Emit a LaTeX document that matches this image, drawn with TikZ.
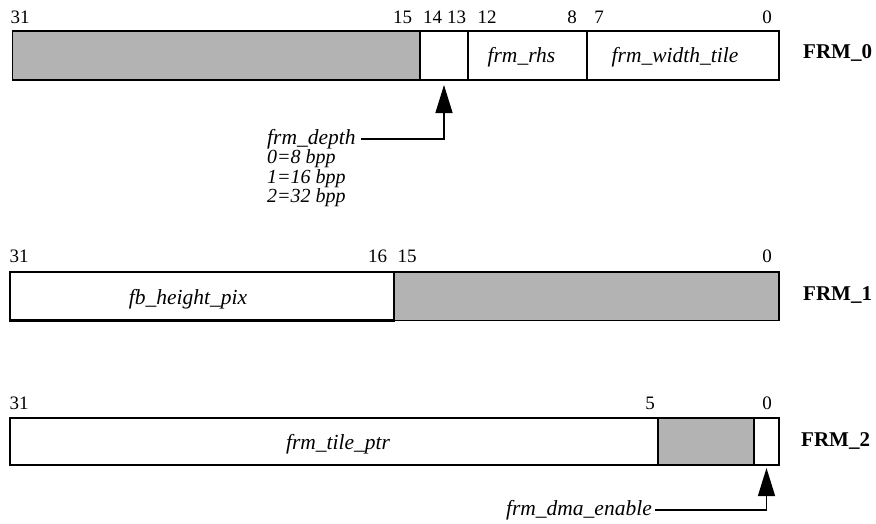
\documentclass[tikz,border=0pt]{standalone}
\usepackage{fontspec}
\setmainfont{Liberation Serif}
\usetikzlibrary{arrows.meta}
\definecolor{fieldgray}{HTML}{B3B3B3}
\begin{document}
\begin{tikzpicture}[x=1pt,y=-1pt,
  reserved/.style={draw=black, fill=fieldgray, line width=1.5pt, inner sep=0pt, outer sep=0pt},
  field/.style={draw=black, fill=white, line width=2.6pt, inner sep=0pt, outer sep=0pt},
  bitnum/.style={font=\fontsize{19}{19}\selectfont, anchor=base, inner sep=0pt},
  fname/.style={font=\fontsize{21.5}{21.5}\selectfont\itshape, anchor=base, inner sep=0pt},
  valname/.style={font=\fontsize{20}{20}\selectfont\itshape, anchor=base west, inner sep=0pt},
  note/.style={font=\fontsize{21.5}{21.5}\selectfont\itshape, inner sep=0pt},
  regname/.style={font=\fontsize{21}{21}\selectfont\bfseries, anchor=base west, inner sep=0pt},
  pointer/.style={line width=1.4pt, -{Triangle[width=17pt,length=28pt]}},
]
\useasboundingbox (0,0) rectangle (876,523);

% ---------------- FRM_0 ----------------
\node[reserved, minimum width=407.7pt, minimum height=49pt] (r0) at (216.15,55.5) {};
\node[field, minimum width=48pt, minimum height=49pt] (depth) at (444,55.5) {};
\node[field, minimum width=119pt, minimum height=49pt] (rhs) at (527.5,55.5) {};
\node[field, minimum width=192pt, minimum height=49pt] (wtile) at (683,55.5) {};
\node[fname] (trhs) at (521.5,62.7) {frm\_rhs};
\node[fname] (twtile) at (675,62.7) {frm\_width\_tile};
\node[regname] (frm0) at (803,58) {FRM\_0};

\node[bitnum] (a31) at (20,23) {31};
\node[bitnum] (a15) at (402.5,23) {15};
\node[bitnum] (a14) at (432.5,23) {14};
\node[bitnum] (a13) at (456.5,23) {13};
\node[bitnum] (a12) at (487,23) {12};
\node[bitnum] (a8) at (572,23) {8};
\node[bitnum] (a7) at (599,23) {7};
\node[bitnum] (a0) at (767,23) {0};

\node[note, anchor=west] (tdepth) at (267,139) {frm\_depth};
\node[valname] (v0) at (267,163.5) {0=8 bpp};
\node[valname] (v1) at (267,183) {1=16 bpp};
\node[valname] (v2) at (267,202.5) {2=32 bpp};
\coordinate (depthtip) at ([yshift=-5pt]depth.south);
\draw[pointer] ([xshift=5pt]tdepth.east) -| (depthtip);

% ---------------- FRM_1 ----------------
\node[reserved, minimum width=385pt, minimum height=48.5pt] (r1) at (586.5,296.25) {};
\node[field, minimum width=384pt, minimum height=48.5pt] (fbh) at (202,296.25) {};
\node[fname] (tfbh) at (188,304) {fb\_height\_pix};
\node[regname] (frm1) at (803,300) {FRM\_1};

\node[bitnum] (c31) at (19,262.7) {31};
\node[bitnum] (c16) at (377.5,262.7) {16};
\node[bitnum] (c15) at (407,262.7) {15};
\node[bitnum] (c0) at (767,262.7) {0};

% ---------------- FRM_2 ----------------
\node[reserved, minimum width=96pt, minimum height=47pt] (r2) at (706,441.5) {};
\node[field, minimum width=648pt, minimum height=47pt] (tptr) at (334,441.5) {};
\node[field, minimum width=25pt, minimum height=47pt] (dma) at (766.5,441.5) {};
\node[fname] (ttptr) at (338,449.5) {frm\_tile\_ptr};
\node[regname] (frm2) at (801,446.5) {FRM\_2};

\node[bitnum] (d31) at (19,409) {31};
\node[bitnum] (d5) at (650,409) {5};
\node[bitnum] (d0) at (767,409) {0};

\node[note, anchor=east] (tdma) at (652,510) {frm\_dma\_enable};
\coordinate (dmatip) at ([yshift=-3pt]dma.south);
\draw[pointer] ([xshift=3pt]tdma.east) -| (dmatip);
\end{tikzpicture}
\end{document}
